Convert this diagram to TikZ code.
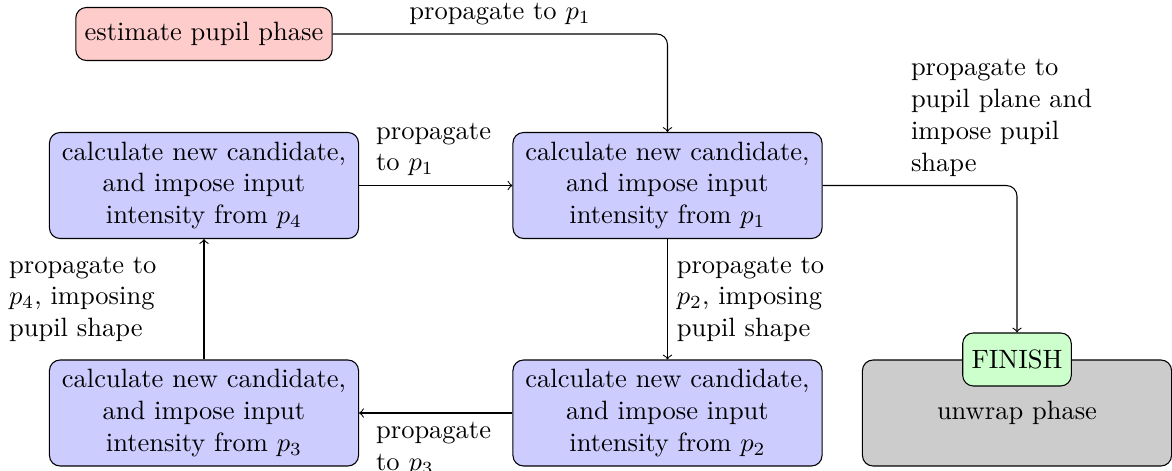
\documentclass[tikz,border=0pt]{standalone}
\begin{document}
\begin{tikzpicture}[x=0.3774pt,y=-0.3774pt,
  box/.style={draw, rounded corners, align=center, inner sep=3.33pt},
  startbox/.style={box, fill=red!20, minimum height=2em},
  calcbox/.style={box, fill=blue!20, text width=110pt, minimum height=40pt},
  endbox/.style={box, fill=gray!40, text width=110pt, minimum height=40pt},
  finbox/.style={box, fill=green!20, minimum height=2em},
  lbl/.style={align=left, inner sep=3.33pt},
  conn/.style={->, rounded corners}
]
\useasboundingbox (0,0) rectangle (1172,471);
\node[startbox] (start) at (204,34) {estimate pupil phase};
\node[calcbox] (c1) at (667.5,185.5) {calculate new candidate,\\ and impose input\\ intensity from $p_1$};
\node[calcbox] (c2) at (667.5,413) {calculate new candidate,\\ and impose input\\ intensity from $p_2$};
\node[calcbox] (c3) at (204,413) {calculate new candidate,\\ and impose input\\ intensity from $p_3$};
\node[calcbox] (c4) at (204,185.5) {calculate new candidate,\\ and impose input\\ intensity from $p_4$};
\node[endbox] (unwrap) at (1017,413) {unwrap phase};
\node[finbox] (fin) at (unwrap.north) {FINISH};

\draw[conn] (start.east) -| node[lbl, pos=0.25, above] {propagate to $p_1$} (c1.north);
\draw[conn] (c4.east) -- node[lbl, above, text width=45pt] {propagate\\ to $p_1$} (c1.west);
\draw[conn] (c1.south) -- node[lbl, right, text width=70pt] {propagate to\\ $p_2$, imposing\\ pupil shape} (c2.north);
\draw[conn] (c2.west) -- node[lbl, below, text width=45pt] {propagate\\ to $p_3$} (c3.east);
\draw[conn] (c3.north) -- node[lbl, left, text width=70pt] {propagate to\\ $p_4$, imposing\\ pupil shape} (c4.south);
\draw[conn] (c1.east) -| node[lbl, pos=0.5, above, text width=80pt] {propagate to\\ pupil plane and\\ impose pupil\\ shape} (fin.north);
\end{tikzpicture}
\end{document}
